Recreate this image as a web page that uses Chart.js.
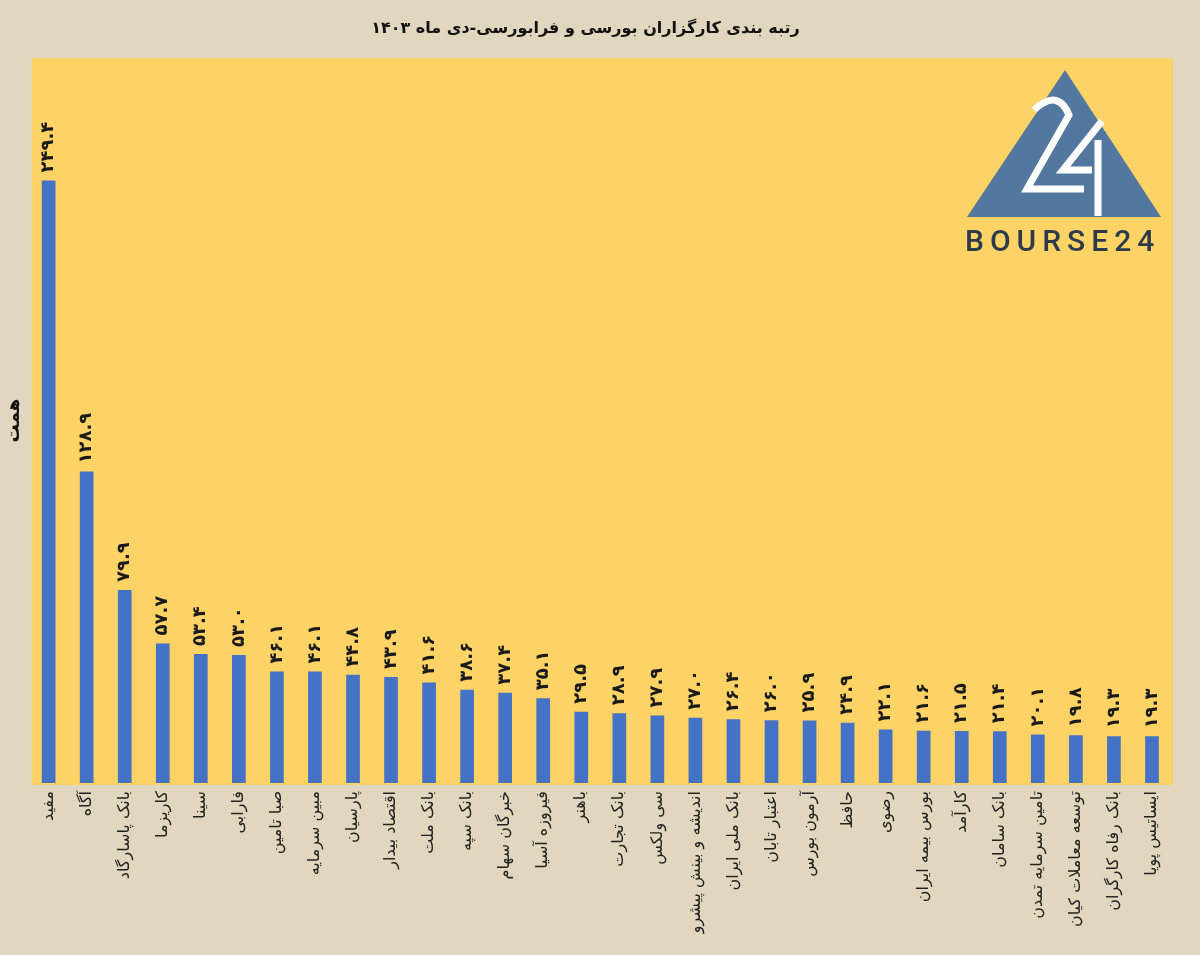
<!DOCTYPE html>
<html>
<head>
<meta charset="utf-8">
<script src="https://cdn.jsdelivr.net/npm/chart.js@4"></script>
<style>
  body { margin: 0; background: #e0d7be; }
  #wrap { width: 1200px; height: 955px; }
</style>
</head>
<body>
<div id="wrap"><canvas id="chart-area"></canvas></div>
<script>
// brokers, Dey 1403
var brokers = [
    'مفید', 'آگاه', 'بانک پاسارگاد', 'کاریزما', 'سینا', 'فارابی',
    'صبا تامین', 'مبین سرمایه', 'پارسیان', 'اقتصاد بیدار', 'بانک ملت',
    'بانک سپه', 'خبرگان سهام', 'فیروزه آسیا', 'باهنر', 'بانک تجارت',
    'سی ولکس', 'اندیشه و بینش پیشرو', 'بانک ملی ایران', 'اعتبار تابان',
    'آرمون بورس', 'حافظ', 'رضوی', 'بورس بیمه ایران', 'کارآمد',
    'بانک سامان', 'تامین سرمایه تمدن', 'توسعه معاملات کیان',
    'بانک رفاه کارگران', 'ایساتیس پویا'
];

// trading value, همت
var values = [
    249.4, 128.9, 79.9, 57.7, 53.4, 53.0,
    46.1, 46.1, 44.8, 43.9, 41.6,
    38.6, 37.4, 35.1, 29.5, 28.9,
    27.9, 27.0, 26.4, 26.0,
    25.9, 24.9, 22.1, 21.6, 21.5,
    21.4, 20.1, 19.8,
    19.3, 19.3
];

var chartTitle = 'رتبه بندی کارگزاران بورسی و فرابورسی-دی ماه ۱۴۰۳';
var yTitle = 'همت';

var faDigits = '۰۱۲۳۴۵۶۷۸۹';
function toFa(v) {
    return v.toFixed(1).replace(/[0-9]/g, function(d) { return faDigits[+d]; });
}

var persianFont = '"DejaVu Sans", sans-serif';

// page + plot background
var backgroundPlugin = {
    id: 'bg',
    beforeDraw: function(chart) {
        var ctx = chart.ctx, a = chart.chartArea;
        ctx.save();
        ctx.fillStyle = '#e0d7be';
        ctx.fillRect(0, 0, chart.width, chart.height);
        ctx.fillStyle = '#fdd366';
        ctx.fillRect(a.left + 2, a.top, a.right - a.left, a.bottom - a.top + 2);
        ctx.restore();
    }
};

// value labels above each bar, rotated
var valueLabels = {
    id: 'valueLabels',
    afterDatasetsDraw: function(chart) {
        var ctx = chart.ctx;
        var meta = chart.getDatasetMeta(0);
        ctx.save();
        ctx.fillStyle = '#1a1a1a';
        ctx.font = 'bold 18px ' + persianFont;
        ctx.textAlign = 'left';
        ctx.textBaseline = 'middle';
        meta.data.forEach(function(bar, i) {
            ctx.save();
            ctx.translate(bar.x, bar.y - 8);
            ctx.rotate(-Math.PI / 2);
            ctx.fillText(toFa(values[i]), 0, 0);
            ctx.restore();
        });
        ctx.restore();
    }
};

// BOURSE24 logo, top right
var logo = {
    id: 'logo',
    afterDraw: function(chart) {
        var ctx = chart.ctx;
        ctx.save();
        ctx.fillStyle = '#52789f';
        ctx.beginPath();
        ctx.moveTo(1065, 70);
        ctx.lineTo(1161, 217);
        ctx.lineTo(967, 217);
        ctx.closePath();
        ctx.fill();

        ctx.strokeStyle = '#ffffff';
        ctx.lineWidth = 7;
        ctx.beginPath();
        ctx.moveTo(1034, 110);
        ctx.quadraticCurveTo(1058, 88, 1069, 115);
        ctx.lineTo(1027, 189);
        ctx.lineTo(1084, 189);
        ctx.stroke();
        ctx.beginPath();
        ctx.moveTo(1102, 121);
        ctx.lineTo(1063, 170);
        ctx.lineTo(1092, 170);
        ctx.stroke();
        ctx.beginPath();
        ctx.moveTo(1098, 140);
        ctx.lineTo(1098, 216);
        ctx.stroke();

        ctx.fillStyle = '#2c3a4a';
        ctx.font = '500 30px Roboto';
        ctx.letterSpacing = '6px';
        ctx.textAlign = 'left';
        ctx.textBaseline = 'middle';
        ctx.fillText('BOURSE24', 965, 243);
        ctx.restore();
    }
};

var config = {
    type: 'bar',
    data: {
        labels: brokers,
        datasets: [{
            data: values,
            backgroundColor: '#4472c4',
            barPercentage: 1,
            categoryPercentage: 0.36
        }]
    },
    options: {
        responsive: true,
        maintainAspectRatio: false,
        animation: false,
        layout: { padding: { left: 0, right: 29, top: 0, bottom: 0 } },
        plugins: {
            legend: { display: false },
            tooltip: { enabled: false },
            title: {
                display: true,
                text: chartTitle,
                color: '#111',
                font: { family: persianFont, size: 16, weight: 'bold' },
                padding: { top: 19, bottom: 20 }
            }
        },
        scales: {
            x: {
                grid: { display: false, drawTicks: false },
                border: { display: false },
                ticks: {
                    autoSkip: false,
                    minRotation: 90,
                    maxRotation: 90,
                    padding: 8,
                    color: '#222',
                    font: { family: persianFont, size: 16 }
                },
                afterFit: function(scale) { scale.height = 172; }
            },
            y: {
                min: 0,
                max: 300,
                grid: { display: false, drawTicks: false },
                border: { display: false },
                ticks: { display: false },
                title: {
                    display: true,
                    text: yTitle,
                    color: '#111',
                    font: { family: persianFont, size: 18, weight: 'bold' },
                    padding: 4
                }
            }
        }
    },
    plugins: [backgroundPlugin, valueLabels, logo]
};

window.onload = function() {
    var ctx = document.getElementById('chart-area').getContext('2d');
    window.myBar = new Chart(ctx, config);
};
</script>
</body>
</html>
